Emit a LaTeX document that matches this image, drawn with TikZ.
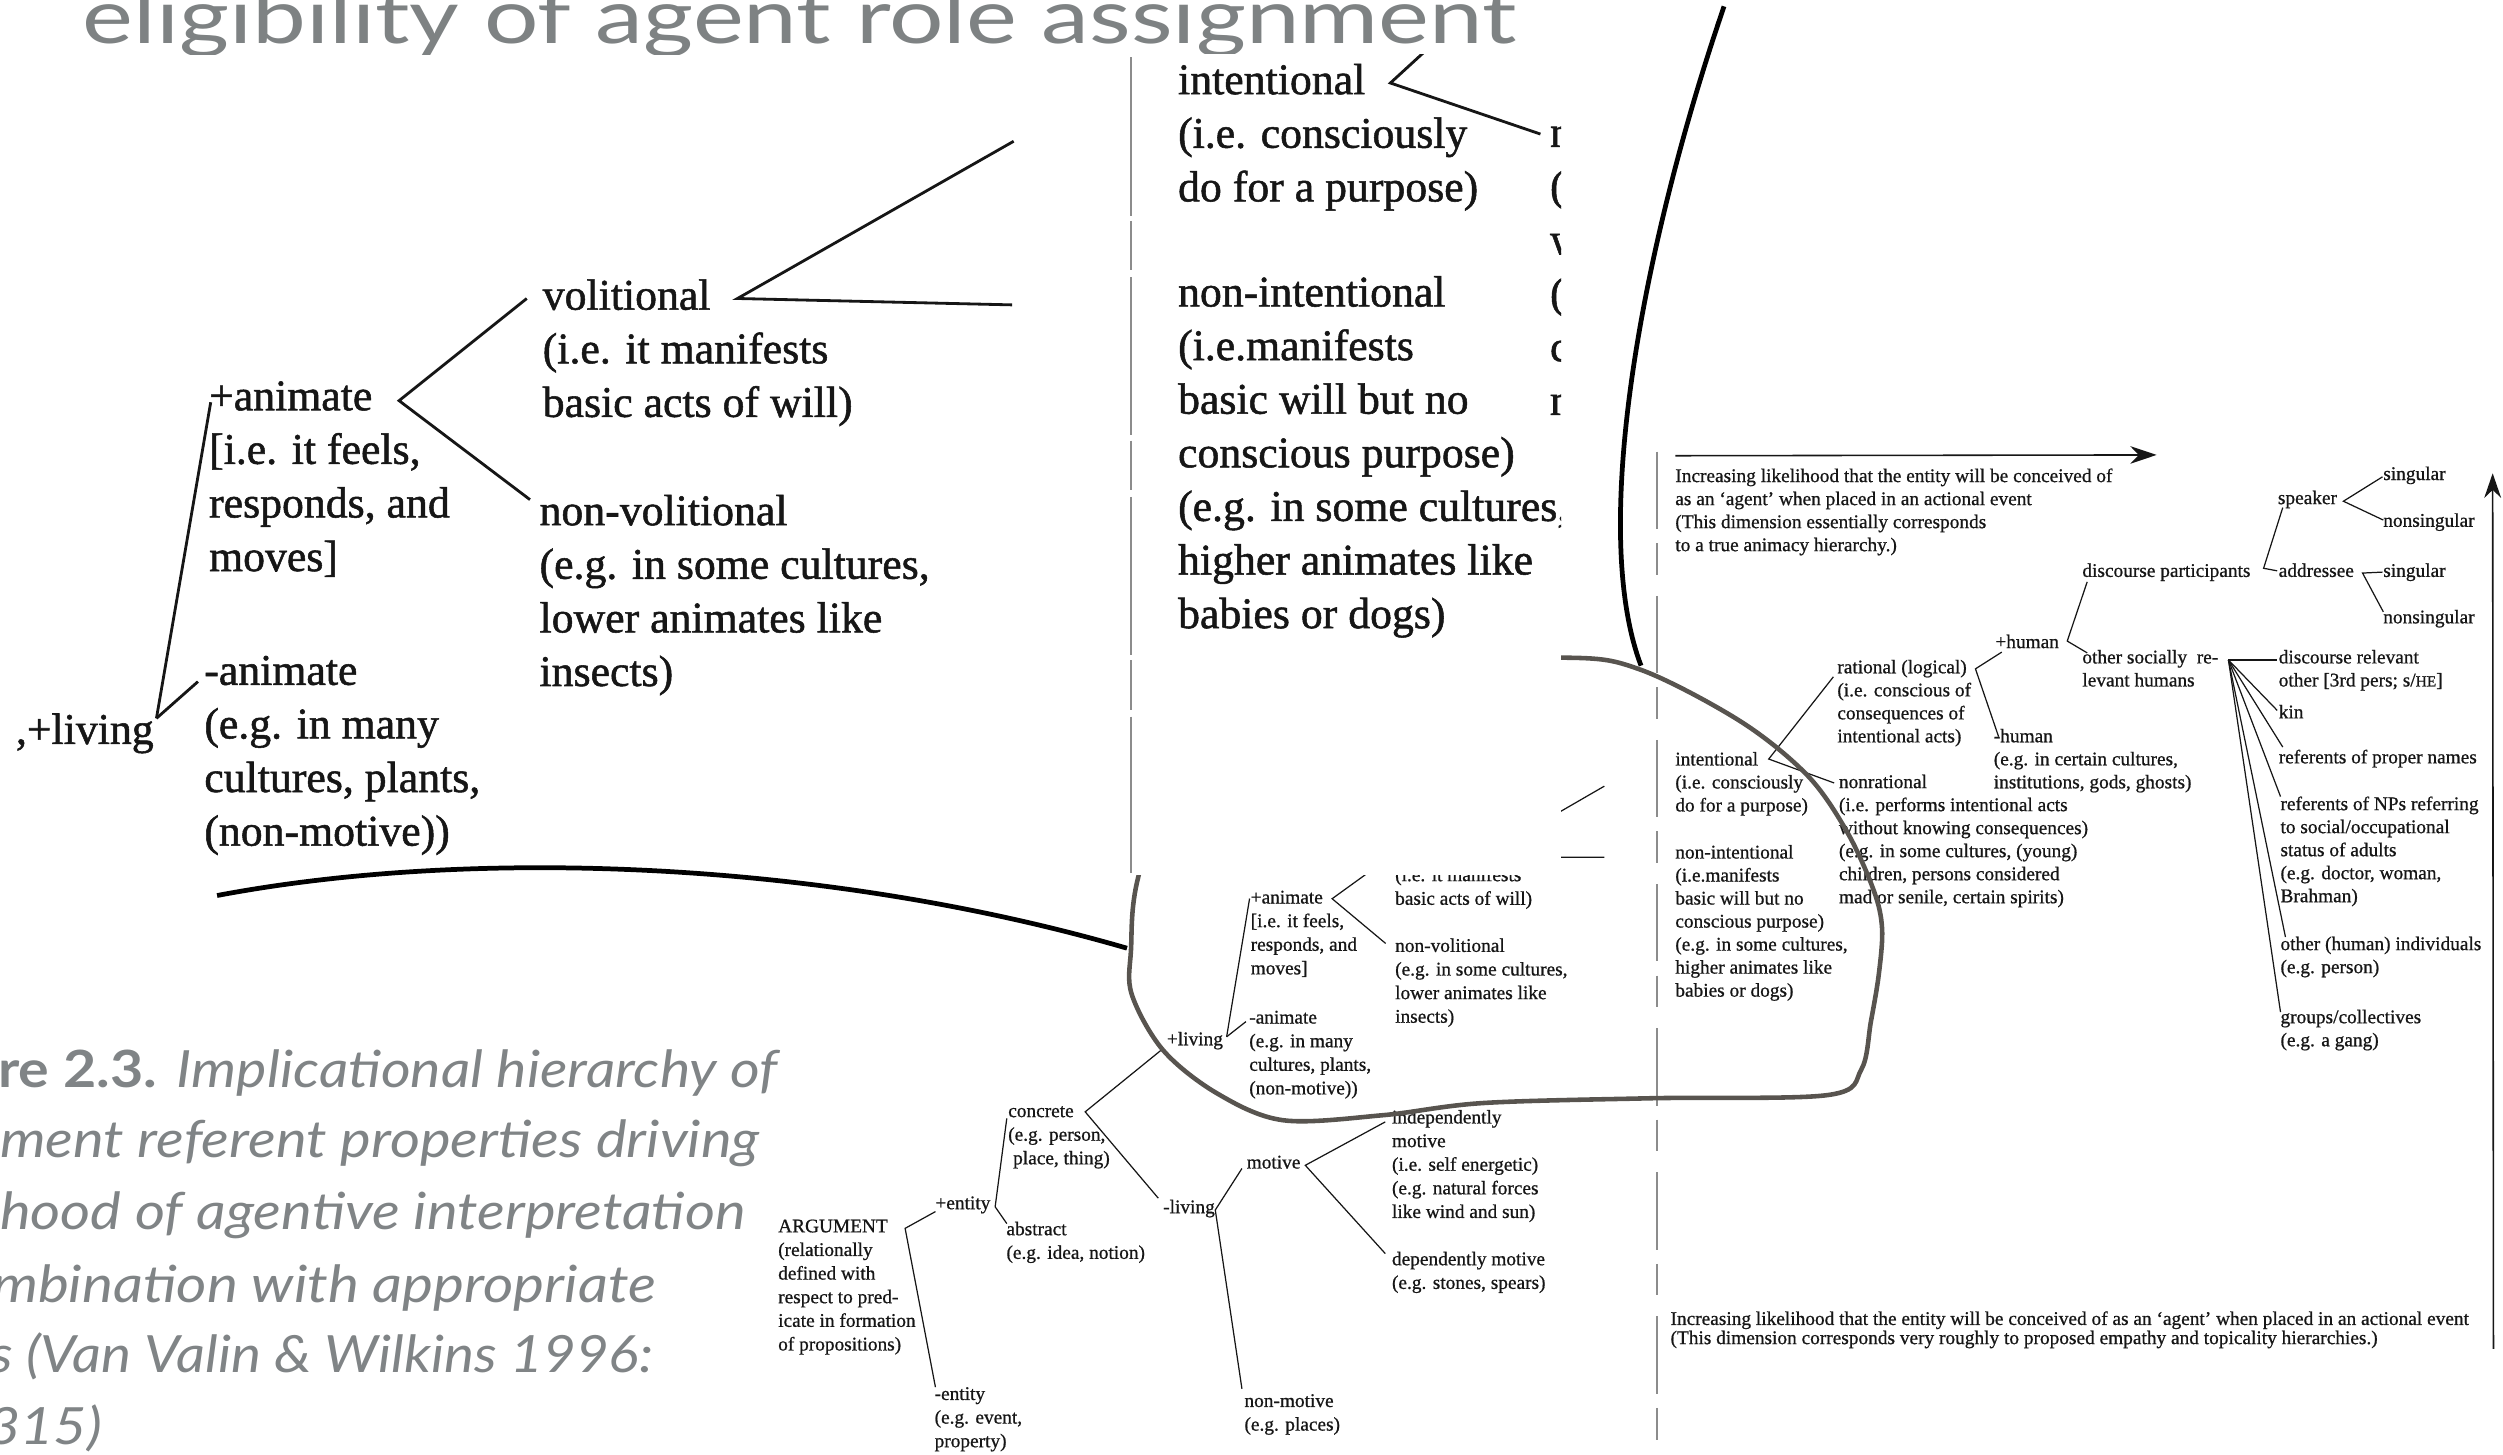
\documentclass[tikz,border=0pt]{standalone}
\usepackage{fontspec}
\usetikzlibrary{arrows.meta}
\newfontfamily\latofont{Lato}
\newfontfamily\scanfont[FakeBold=1.2]{Liberation Serif}
\newfontfamily\scanfontsm[FakeBold=0.8]{Liberation Serif}
\definecolor{titlegray}{HTML}{7E8283}
\definecolor{capgray}{HTML}{808486}
\definecolor{ink}{HTML}{161616}
\definecolor{loopgray}{HTML}{58544F}
\definecolor{rulegray}{HTML}{8C8C8C}
\newcommand\bigfnt{\scanfont\fontsize{12.45}{15.25}\selectfont}
\newcommand\smfnt{\scanfontsm\fontsize{5.5}{6.72}\selectfont}
\newcommand\rtfnt{\scanfontsm\fontsize{5.5}{6.55}\selectfont}
\newcommand\btfnt{\scanfontsm\fontsize{5.5}{5.45}\selectfont}
\newcommand\capfnt{\latofont\fontsize{14.6}{17}\selectfont}
\tikzset{
  bigtxt/.style={font=\bigfnt, anchor=base west, inner sep=0pt, outer sep=0pt, align=left, text=ink},
  smtxt/.style={bigtxt, font=\smfnt},
  rttxt/.style={bigtxt, font=\rtfnt},
  bttxt/.style={bigtxt, font=\btfnt},
  nbig/.style={yshift={-(#1-1)*15.25pt}},
  nsm/.style={yshift={-(#1-1)*6.72pt}},
  nrt/.style={yshift={-(#1-1)*6.55pt}},
  nbt/.style={yshift={-(#1-1)*5.45pt}},
  bigline/.style={draw=ink, line width=0.8pt},
  smline/.style={draw=ink, line width=0.35pt},
  callout/.style={draw=black, line width=1.35pt},
  loopline/.style={draw=loopgray, line width=1.3pt},
  capline/.style={font=\capfnt, text=capgray, anchor=base west, inner sep=0pt, outer sep=0pt},
  scanrule/.style={draw=rulegray, line width=0.45pt},
}
\begin{document}
\begin{tikzpicture}[x=0.01596cm, y=-0.01596cm]
\useasboundingbox (0,0) rectangle (1568,911);
\begin{scope}
\clip (0,0) rectangle (1568,911);

% ---------- title
\begin{scope}
\clip (0,0) rectangle (1568,34);
\node[anchor=base west, inner sep=0pt, text=titlegray] (title) at (51.4,27)
  {\resizebox{408pt}{\height}{\latofont\fontsize{21.5}{25}\selectfont eligibility of agent role assignment}};
\end{scope}

% ---------- caption
\node[capline] (cap1) at (-1,681) {\resizebox{222.5pt}{\height}{\textbf{re 2.3.} \textit{Implicational hierarchy of}}};
\node[capline] (cap2) at (0,725) {\resizebox{216.2pt}{\height}{\textit{ment referent properties driving}}};
\node[capline] (cap3) at (0,770) {\resizebox{212.1pt}{\height}{\textit{hood of agentive interpretation}}};
\node[capline] (cap4) at (-5,816) {\resizebox{188.9pt}{\height}{\textit{mbination with appropriate}}};
\node[capline] (cap5) at (-6,860) {\resizebox{188.5pt}{\height}{\textit{s (Van Valin \& Wilkins 1996:}}};
\node[capline] (cap6) at (-8,905) {\resizebox{32.7pt}{\height}{\textit{315)}}};

% ---------- small tree
\node[smtxt, nsm=6] (sarg) at (487.5,772) {ARGUMENT\\(relationally\\defined with\\respect to pred-\\icate in formation\\of propositions)};
\node[smtxt] (spent) at (586,757.5) {+entity};
\node[smtxt, nsm=3] (sment) at (585.5,877) {-entity\\(e.g. event,\\property)};
\node[smtxt, nsm=3] (sconc) at (631.6,699.8) {concrete\\(e.g. person,\\\hspace{1.4pt}place, thing)};
\node[smtxt, nsm=2] (sabs) at (630.5,773.8) {abstract\\(e.g. idea, notion)};
\node[smtxt] (smliv) at (728.7,760) {-living};
\node[smtxt] (smot) at (781,732) {motive};
\node[smtxt, nsm=2] (snonmot) at (779.6,881.4) {non-motive\\(e.g. places)};
\node[smtxt, nsm=5] (sindep) at (872,703.8) {independently\\motive\\(i.e. self energetic)\\(e.g. natural forces\\like wind and sun)};
\node[smtxt, nsm=2] (sdep) at (872,792.6) {dependently motive\\(e.g. stones, spears)};
\node[smtxt] (spliv) at (731,654.8) {+living};
\node[smtxt, nsm=4] (span) at (783.5,566) {+animate\\{[}i.e. it feels,\\responds, and\\moves]};
\node[smtxt, nsm=4] (sinan) at (782.6,641.2) {-animate\\(e.g. in many\\cultures, plants,\\(non-motive))};
\node[smtxt, nsm=2] (smanif) at (874,552) {(i.e. it manifests\\basic acts of will)};
\node[smtxt, nsm=4] (snonvol) at (874,596.3) {non-volitional\\(e.g. in some cultures,\\lower animates like\\insects)};

\coordinate (sA0) at (567,769.5); \coordinate (sA1) at (586,759); \coordinate (sA2) at (586,869);
\draw[smline] (sA1) -- (sA0) -- (sA2);
\coordinate (sE0) at (623.4,756); \coordinate (sE1) at (630.7,700.6); \coordinate (sE2) at (630.7,766.5);
\draw[smline] (sE1) -- (sE0) -- (sE2);
\coordinate (sC0) at (679.8,696.5); \coordinate (sC1) at (728.7,656.8); \coordinate (sC2) at (725.6,750.6);
\draw[smline] (sC1) -- (sC0) -- (sC2);
\coordinate (sN0) at (761.3,758); \coordinate (sN1) at (778,732); \coordinate (sN2) at (778,870);
\draw[smline] (sN1) -- (sN0) -- (sN2);
\coordinate (sM0) at (817.7,730); \coordinate (sM1) at (867.8,702.8); \coordinate (sM2) at (867.8,785.3);
\draw[smline] (sM1) -- (sM0) -- (sM2);
\coordinate (sL0) at (768.4,649.5); \coordinate (sL1) at (782.8,562.9); \coordinate (sL2) at (780.5,640);
\draw[smline] (sL0) -- (sL1); \draw[smline] (sL0) -- (sL2);
\coordinate (sP0) at (834.5,563); \coordinate (sP1) at (876,533); \coordinate (sP2) at (868,591);
\draw[smline] (sP1) -- (sP0) -- (sP2);
\coordinate (sV0) at (928,537); \coordinate (sV1) at (1005,492.5); \coordinate (sV2) at (1005,537);
\draw[smline] (sV1) -- (sV0) -- (sV2);

% ---------- right tree
\coordinate (rvt) at (1038,283); \coordinate (rvb) at (1038,911);
\draw[scanrule, dash pattern=on 22pt off 4pt on 9pt off 6pt] (rvt) -- (rvb);
\coordinate (ra0) at (1049.5,285.5); \coordinate (ra1) at (1351,285);
\draw[draw=ink, line width=0.45pt, -{Stealth[length=7.5pt,width=5pt]}] (ra0) -- (ra1);
\coordinate (rb0) at (1562,845); \coordinate (rb1) at (1561.5,296.5);
\draw[draw=ink, line width=0.45pt, -{Stealth[length=7pt,width=4.8pt]}] (rb0) -- (rb1);

\node[rttxt, nrt=4] (rtop) at (1049.5,302) {Increasing likelihood that the entity will be conceived of\\as an ‘agent’ when placed in an actional event\\(This dimension essentially corresponds\\to a true animacy hierarchy.)};
\node[rttxt, nrt=3] (rint) at (1049.5,479.5) {intentional\\(i.e. consciously\\do for a purpose)};
\node[rttxt, nrt=7] (rnonint) at (1049.5,537.8) {non-intentional\\(i.e.manifests\\basic will but no\\conscious purpose)\\(e.g. in some cultures,\\higher animates like\\babies or dogs)};
\node[rttxt, nrt=4] (rrat) at (1151,421.8) {rational (logical)\\(i.e. conscious of\\consequences of\\intentional acts)};
\node[rttxt, nrt=6] (rnonrat) at (1152,493.7) {nonrational\\(i.e. performs intentional acts\\without knowing consequences)\\(e.g. in some cultures, (young)\\children, persons considered\\mad or senile, certain spirits)};
\node[rttxt] (rphum) at (1250,406) {+human};
\node[rttxt, nrt=3] (rmhum) at (1249,465) {-human\\(e.g. in certain cultures,\\institutions, gods, ghosts)};
\node[rttxt] (rdp) at (1304.5,361.4) {discourse participants};
\node[rttxt, nrt=2] (rosr) at (1304.5,415.6) {other socially\ \ re-\\levant humans};
\node[rttxt] (rspk) at (1427,315.8) {speaker};
\node[rttxt] (rsg1) at (1493,300.7) {singular};
\node[rttxt] (rns1) at (1493,330) {nonsingular};
\node[rttxt] (radr) at (1427.5,361.4) {addressee};
\node[rttxt] (rsg2) at (1493,361.4) {singular};
\node[rttxt] (rns2) at (1493,390.5) {nonsingular};
\node[rttxt, nrt=2] (rdrel) at (1427.5,415.6) {discourse relevant\\other [3rd pers; s/\scalebox{0.8}{HE}]};
\node[rttxt] (rkin) at (1427.5,450) {kin};
\node[rttxt] (rprop) at (1427.5,478.2) {referents of proper names};
\node[rttxt, nrt=5] (rnps) at (1428.6,507.5) {referents of NPs referring\\to social/occupational\\status of adults\\(e.g. doctor, woman,\\Brahman)};
\node[rttxt, nrt=2] (rindiv) at (1428.6,595.2) {other (human) individuals\\(e.g. person)};
\node[rttxt, nrt=2] (rgrp) at (1428.6,641) {groups/collectives\\(e.g. a gang)};
\node[bttxt, nbt=2] (rbot) at (1046.5,830) {Increasing likelihood that the entity will be conceived of as an ‘agent’ when placed in an actional event\\(This dimension corresponds very roughly to proposed empathy and topicality hierarchies.)};

\coordinate (rI0) at (1108,475.5); \coordinate (rI1) at (1148.5,424); \coordinate (rI2) at (1149,490.5);
\draw[smline] (rI1) -- (rI0) -- (rI2);
\coordinate (rR0) at (1237.5,419); \coordinate (rR1) at (1254,408.5); \coordinate (rR2) at (1252,461.5);
\draw[smline] (rR1) -- (rR0) -- (rR2);
\coordinate (rH0) at (1295,401.6); \coordinate (rH1) at (1307.5,364.5); \coordinate (rH2) at (1307.5,409);
\draw[smline] (rH1) -- (rH0) -- (rH2);
\coordinate (rD0) at (1430,318); \coordinate (rD1) at (1418,356); \coordinate (rD2) at (1426.5,357.6);
\draw[smline] (rD0) -- (rD1) -- (rD2);
\coordinate (rS0) at (1468,314); \coordinate (rS1) at (1492.5,298.7); \coordinate (rS2) at (1493,325.8);
\draw[smline] (rS1) -- (rS0) -- (rS2);
\coordinate (rA0) at (1480,359); \coordinate (rA1) at (1492.5,358.4); \coordinate (rA2) at (1493,383.3);
\draw[smline] (rA1) -- (rA0) -- (rA2);
\coordinate (rF0) at (1396,413.5);
\coordinate (rF1) at (1426.5,413.5); \coordinate (rF2) at (1426.5,445); \coordinate (rF3) at (1430,468);
\coordinate (rF4) at (1428.6,499); \coordinate (rF5) at (1431.7,587); \coordinate (rF6) at (1428.6,634);
\foreach \t in {rF1,rF2,rF3,rF4,rF5,rF6} \draw[smline] (rF0) -- (\t);

% ---------- grey loop
\draw[loopline] plot[smooth cycle, tension=0.55] coordinates {(860,418) (979,412) (1027.6,419.5) (1090,451.7) (1132,485.5) (1157,521) (1173.7,557.6) (1179,581.5) (1177,610) (1172,640) (1166,670) (1145,686) (1034,688) (929,691) (866.5,698.6) (804,701.8) (762.5,685) (728.7,658) (709,623) (708.5,595) (713,549.6) (740,470)};

% ---------- enlarged "intentional" excerpt
\begin{scope}
\clip (703,34) rectangle (978,548);
\fill[white] (703,34) rectangle (978,548);
\coordinate (evt) at (708.5,36); \coordinate (evb) at (708.5,547);
\draw[scanrule, line width=0.6pt, dash pattern=on 45pt off 1.5pt on 14pt off 2pt] (evt) -- (evb);
\node[bigtxt, nbig=3] (eint) at (738,59) {intentional\\(i.e. consciously\\do for a purpose)};
\node[bigtxt, nbig=7] (enonint) at (738,192) {non-intentional\\(i.e.manifests\\basic will but no\\conscious purpose)\\(e.g. in some cultures,\\higher animates like\\babies or dogs)};
\coordinate (eF0) at (871,52); \coordinate (eF1) at (895,30); \coordinate (eF2) at (965,84);
\draw[bigline] (eF1) -- (eF0) -- (eF2);
\node[bigtxt, nbig=6] (ecut) at (971,92) {n\\(\\w\\(\\c\\m};
\end{scope}

% ---------- enlarged big tree
\node[bigtxt] (bliv) at (10,466) {,+living};
\node[bigtxt, nbig=4] (banim) at (131,257) {+animate\\{[}i.e. it feels,\\responds, and\\moves]};
\node[bigtxt, nbig=4] (binan) at (128,429) {-animate\\(e.g. in many\\cultures, plants,\\(non-motive))};
\node[bigtxt, nbig=3] (bvol) at (340,194) {volitional\\(i.e. it manifests\\basic acts of will)};
\node[bigtxt, nbig=4] (bnonvol) at (338,329) {non-volitional\\(e.g. in some cultures,\\lower animates like\\insects)};
\coordinate (bL0) at (98,450); \coordinate (bL1) at (132,252); \coordinate (bL2) at (124,427);
\draw[bigline] (bL0) -- (bL1); \draw[bigline] (bL0) -- (bL2);
\coordinate (bA0) at (250,251); \coordinate (bA1) at (330,187); \coordinate (bA2) at (332,313);
\draw[bigline] (bA1) -- (bA0) -- (bA2);
\coordinate (bV0) at (462,187); \coordinate (bV1) at (635,88.5); \coordinate (bV2) at (634,191);
\draw[bigline] (bV1) -- (bV0) -- (bV2);

% ---------- callout curves
\coordinate (cL0) at (136,561); \coordinate (cL1) at (706,594);
\draw[callout] (cL0) .. controls (300,530) and (520,540) .. (cL1);
\coordinate (cR0) at (1080,4); \coordinate (cR1) at (1028,417);
\draw[callout] (cR0) .. controls (1030,150) and (995,330) .. (cR1);
\end{scope}
\end{tikzpicture}
\end{document}
